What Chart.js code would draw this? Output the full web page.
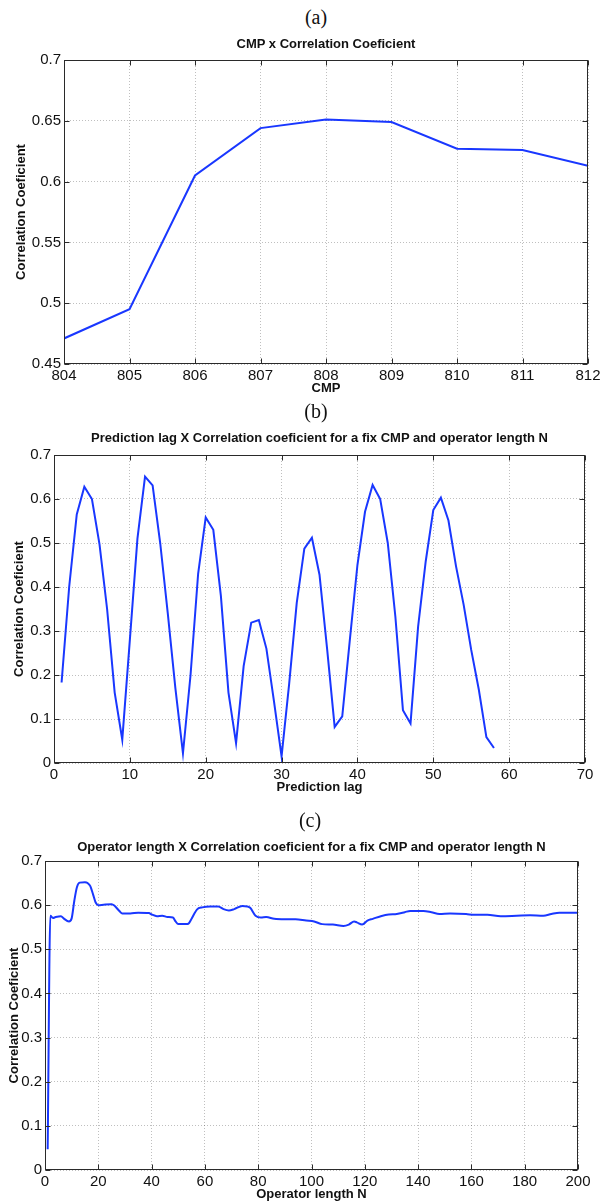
<!DOCTYPE html>
<html lang="en">
<head>
<meta charset="UTF-8">
<title>Correlation Coeficient</title>
<script src="https://cdn.jsdelivr.net/npm/chart.js"></script>
<style>
  body { margin: 0; background: #fff; width: 608px; height: 1203px; position: relative; overflow: hidden; }
  canvas { position: absolute; left: 0; }
  .letra { position: absolute; width: 60px; text-align: center; font-family: "Liberation Serif", serif; font-size: 20px; color: #111; }
  .titulo { position: absolute; text-align: center; font-family: "Liberation Sans", Arial, sans-serif; font-weight: bold; font-size: 13px; color: #111; white-space: nowrap; }
</style>
</head>
<body>
<canvas id="graficoA" width="608" height="370" style="top:30px"></canvas>
<canvas id="graficoB" width="608" height="380" style="top:420px"></canvas>
<canvas id="graficoC" width="608" height="373" style="top:830px"></canvas>

<div class="letra" style="left:286px; top:6px">(a)</div>
<div class="titulo" style="left:64px; width:524px; top:36px">CMP x Correlation Coeficient</div>
<div class="letra" style="left:286px; top:400px">(b)</div>
<div class="titulo" style="left:54px; width:531px; top:430px">Prediction lag X Correlation coeficient for a fix CMP and operator length N</div>
<div class="letra" style="left:280px; top:809px">(c)</div>
<div class="titulo" style="left:45px; width:533px; top:839px">Operator length X Correlation coeficient for a fix CMP and operator length N</div>

<script>
// (a) CMP x coeficiente
const cmp = [804, 805, 806, 807, 808, 809, 810, 811, 812];
const corrCmp = [0.471, 0.495, 0.605, 0.644, 0.651, 0.649, 0.627, 0.626, 0.613];

// (b) prediction lag 1..58
const lag = [1, 2, 3, 4, 5, 6, 7, 8, 9, 10, 11, 12, 13, 14, 15, 16, 17, 18, 19, 20,
  21, 22, 23, 24, 25, 26, 27, 28, 29, 30, 31, 32, 33, 34, 35, 36, 37, 38, 39, 40,
  41, 42, 43, 44, 45, 46, 47, 48, 49, 50, 51, 52, 53, 54, 55, 56, 57, 58];
const corrLag = [0.183, 0.40, 0.565, 0.628, 0.600, 0.497, 0.35, 0.16, 0.053, 0.28,
  0.51, 0.651, 0.631, 0.50, 0.34, 0.17, 0.022, 0.20, 0.43, 0.558,
  0.530, 0.38, 0.16, 0.045, 0.22, 0.319, 0.325, 0.26, 0.14, 0.015,
  0.18, 0.364, 0.487, 0.512, 0.428, 0.26, 0.082, 0.106, 0.28, 0.45,
  0.571, 0.632, 0.600, 0.50, 0.333, 0.12, 0.09, 0.31, 0.458, 0.575,
  0.603, 0.551, 0.447, 0.36, 0.257, 0.167, 0.059, 0.034];

// (c) operator length N
const opN = [1, 2, 3, 4, 6, 7, 9, 10, 11, 12, 13, 15, 16, 17, 18, 19, 20, 22, 25, 26,
  28, 29, 32, 35, 39, 40, 42, 44, 46, 48, 49, 50, 53, 54, 55, 57, 59, 62, 65, 67,
  69, 71, 74, 76, 77, 79, 81, 83, 86, 90, 94, 98, 101, 104, 108, 112, 114, 116, 117, 119,
  121, 123, 126, 129, 132, 135, 137, 142, 145, 148, 152, 158, 161, 166, 171, 177, 182, 187, 190, 193,
  200];
const corrOp = [0.047, 0.576, 0.571, 0.573, 0.575, 0.570, 0.563, 0.570, 0.61, 0.641, 0.651, 0.652, 0.650, 0.643, 0.625, 0.606, 0.600, 0.601, 0.602, 0.599,
  0.586, 0.581, 0.581, 0.583, 0.582, 0.579, 0.575, 0.576, 0.573, 0.572, 0.563, 0.557, 0.557, 0.559, 0.569, 0.590, 0.595, 0.597, 0.597, 0.591,
  0.588, 0.591, 0.598, 0.597, 0.594, 0.576, 0.572, 0.573, 0.569, 0.568, 0.568, 0.565, 0.563, 0.557, 0.556, 0.553, 0.556, 0.563, 0.561, 0.556,
  0.565, 0.569, 0.575, 0.579, 0.580, 0.584, 0.587, 0.587, 0.584, 0.580, 0.581, 0.580, 0.578, 0.578, 0.575, 0.576, 0.577, 0.576, 0.580, 0.583,
  0.583];

const azul = 'rgb(25, 55, 255)';
const fonteTick = { family: '"Liberation Sans", Arial, sans-serif', size: 15 };
const fonteEixo = { family: '"Liberation Sans", Arial, sans-serif', size: 13, weight: 'bold' };

// caixa em volta da area do grafico com ticks para dentro (estilo matlab)
const caixa = {
  id: 'caixa',
  afterDraw(chart) {
    const { ctx, chartArea: a, scales: { x, y } } = chart;
    const L = Math.round(a.left) + 0.5, R = Math.round(a.right) - 0.5;
    const T = Math.round(a.top) + 0.5, B = Math.round(a.bottom) - 0.5;
    ctx.save();
    ctx.strokeStyle = '#2a2a2a';
    ctx.lineWidth = 1;
    ctx.beginPath();
    x.ticks.forEach(t => {
      const px = Math.round(x.getPixelForValue(t.value)) + 0.5;
      ctx.moveTo(px, B); ctx.lineTo(px, B - 5);
      ctx.moveTo(px, T); ctx.lineTo(px, T + 5);
    });
    y.ticks.forEach(t => {
      const py = Math.round(y.getPixelForValue(t.value)) + 0.5;
      ctx.moveTo(L, py); ctx.lineTo(L + 5, py);
      ctx.moveTo(R, py); ctx.lineTo(R - 5, py);
    });
    ctx.stroke();
    ctx.strokeRect(L, T, R - L, B - T);
    ctx.restore();
  }
};

function rotulo(v) {
  return String(+v.toFixed(2));
}

function criarGrafico(id, xs, ys, cfg) {
  const pontos = xs.map((v, i) => ({ x: v, y: ys[i] }));
  return new Chart(document.getElementById(id), {
    type: 'line',
    data: {
      datasets: [{
        data: pontos,
        borderColor: azul,
        borderWidth: 2,
        pointRadius: 0,
        fill: false,
        cubicInterpolationMode: cfg.suave ? 'monotone' : 'default',
        tension: 0
      }]
    },
    options: {
      responsive: false,
      animation: false,
      devicePixelRatio: 1,
      layout: { padding: { top: cfg.topo, right: cfg.direita, left: 0, bottom: 0 } },
      plugins: { legend: { display: false }, tooltip: { enabled: false }, title: { display: false } },
      scales: {
        x: {
          type: 'linear',
          min: cfg.xMin, max: cfg.xMax,
          ticks: { stepSize: cfg.xPasso, color: '#111', font: fonteTick, padding: 3, maxRotation: 0, autoSkip: false },
          grid: { color: 'rgba(0,0,0,0.25)', drawTicks: false },
          border: { display: false, dash: [1, 2] },
          title: { display: true, text: cfg.xTitulo, color: '#111', font: fonteEixo, padding: { top: 0, bottom: cfg.xTitPad } },
          afterFit: s => { s.height = cfg.alturaX; }
        },
        y: {
          min: cfg.yMin, max: cfg.yMax,
          ticks: { stepSize: cfg.yPasso, color: '#111', font: fonteTick, padding: 3, callback: rotulo },
          grid: { color: 'rgba(0,0,0,0.25)', drawTicks: false },
          border: { display: false, dash: [1, 2] },
          title: { display: true, text: 'Correlation Coeficient', color: '#111', font: fonteEixo, padding: { top: cfg.yTitPad, bottom: 0 } },
          afterFit: s => { s.width = cfg.larguraY; }
        }
      }
    },
    plugins: [caixa]
  });
}

criarGrafico('graficoA', cmp, corrCmp, {
  xMin: 804, xMax: 812, xPasso: 1, yMin: 0.45, yMax: 0.7, yPasso: 0.05,
  xTitulo: 'CMP', topo: 30, direita: 20, alturaX: 36, larguraY: 64, xTitPad: 4, yTitPad: 14
});

criarGrafico('graficoB', lag, corrLag, {
  xMin: 0, xMax: 70, xPasso: 10, yMin: 0, yMax: 0.7, yPasso: 0.1,
  xTitulo: 'Prediction lag', topo: 35, direita: 23, alturaX: 37, larguraY: 54, xTitPad: 5, yTitPad: 12
});

criarGrafico('graficoC', opN, corrOp, {
  xMin: 0, xMax: 200, xPasso: 20, yMin: 0, yMax: 0.7, yPasso: 0.1,
  xTitulo: 'Operator length N', topo: 31, direita: 30, alturaX: 33, larguraY: 45, xTitPad: 1, yTitPad: 7, suave: true
});
</script>
</body>
</html>
